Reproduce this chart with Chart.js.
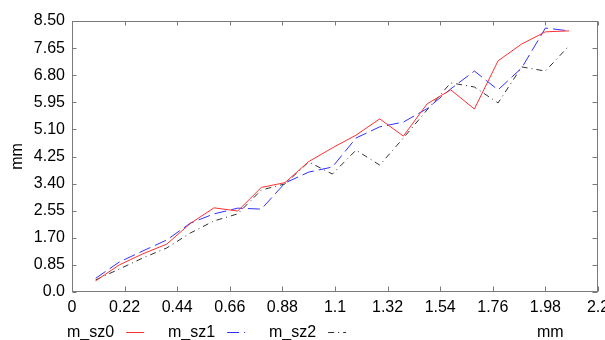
<!DOCTYPE html>
<html><head><meta charset="utf-8">
<script src="https://cdn.jsdelivr.net/npm/chart.js@4/dist/chart.umd.min.js"></script>
<style>html,body{margin:0;padding:0;background:#fff;}canvas{display:block;}</style>
</head><body>
<canvas id="c" width="605" height="340"></canvas>
<script>
const xValues = [0.099, 0.198, 0.297, 0.396, 0.495, 0.594, 0.693, 0.792, 0.891, 0.99, 1.089, 1.188, 1.287, 1.386, 1.485, 1.584, 1.683, 1.782, 1.881, 1.98, 2.079];
const seriesNames = ['m_sz0', 'm_sz1', 'm_sz2'];
const sz0 = [0.35, 0.85, 1.20, 1.50, 2.15, 2.64, 2.54, 3.28, 3.43, 4.09, 4.52, 4.92, 5.43, 4.89, 5.90, 6.34, 5.74, 7.25, 7.78, 8.16, 8.19];
const sz1 = [0.43, 0.94, 1.29, 1.63, 2.16, 2.45, 2.63, 2.60, 3.42, 3.76, 3.92, 4.83, 5.18, 5.33, 5.75, 6.37, 6.93, 6.34, 7.03, 8.28, 8.19];
const sz2 = [0.38, 0.72, 1.07, 1.38, 1.85, 2.23, 2.45, 3.20, 3.39, 4.08, 3.70, 4.45, 3.98, 4.83, 5.71, 6.56, 6.43, 5.93, 7.06, 6.93, 7.72];
const xTickValues = [0, 0.22, 0.44, 0.66, 0.88, 1.1, 1.32, 1.54, 1.76, 1.98, 2.2];
const xTickLabels = ['0', '0.22', '0.44', '0.66', '0.88', '1.1', '1.32', '1.54', '1.76', '1.98', '2.2'];
const yTickValues = [0, 0.85, 1.7, 2.55, 3.4, 4.25, 5.1, 5.95, 6.8, 7.65, 8.5];
const yTickLabels = ['0.0', '0.85', '1.70', '2.55', '3.40', '4.25', '5.10', '5.95', '6.80', '7.65', '8.50'];
const xAxisTitle = 'mm';
const yAxisTitle = 'mm';

const FONT = "'Liberation Sans', Arial, sans-serif";
const styles = [
  { color: '#ff3030', dash: [] },
  { color: '#3030ff', dash: [12, 5] },
  { color: '#303030', dash: [6, 4, 1, 4] }
];
const datasets = [sz0, sz1, sz2].map((arr, k) => ({
  label: seriesNames[k],
  data: arr.map((y, i) => ({ x: xValues[i], y: y })),
  borderColor: styles[k].color,
  borderDash: styles[k].dash,
  borderWidth: 1,
  pointRadius: 0,
  fill: false,
  tension: 0
}));

const framePlugin = {
  id: 'frame',
  afterDraw(chart) {
    const { ctx, chartArea: a, scales: { x, y } } = chart;
    ctx.save();
    ctx.strokeStyle = '#7a7a7a';
    ctx.lineWidth = 1;
    const L = Math.round(a.left) + 0.5, R = Math.round(a.right) - 0.5;
    const T = Math.round(a.top) + 0.5, B = Math.round(a.bottom) - 0.5;
    ctx.strokeRect(L, T, R - L, B - T);
    ctx.beginPath();
    x.ticks.forEach(t => {
      const px = Math.round(x.getPixelForValue(t.value)) + 0.5;
      ctx.moveTo(px, B); ctx.lineTo(px, B - 5);
      ctx.moveTo(px, T); ctx.lineTo(px, T + 4);
    });
    y.ticks.forEach(t => {
      const py = Math.round(y.getPixelForValue(t.value)) + 0.5;
      ctx.moveTo(L, py); ctx.lineTo(L + 4, py);
      ctx.moveTo(R, py); ctx.lineTo(R - 5, py);
    });
    ctx.stroke();

    ctx.font = '16px ' + FONT;
    ctx.fillStyle = '#000';
    ctx.textBaseline = 'alphabetic';
    ctx.textAlign = 'left';
    chart.data.datasets.forEach((ds, k) => {
      const tx = 67 + k * 101;
      ctx.fillText(ds.label, tx, 337);
      const w = ctx.measureText(ds.label).width;
      ctx.strokeStyle = ds.borderColor;
      ctx.setLineDash(ds.borderDash || []);
      ctx.beginPath();
      ctx.moveTo(tx + w + 12, 332.5);
      ctx.lineTo(tx + w + 30, 332.5);
      ctx.stroke();
      ctx.setLineDash([]);
    });
    ctx.fillText(xAxisTitle, 537, 337);
    ctx.restore();
  }
};

new Chart(document.getElementById('c'), {
  type: 'line',
  data: { datasets: datasets },
  plugins: [framePlugin],
  options: {
    responsive: false,
    animation: false,
    devicePixelRatio: 1,
    layout: { padding: { top: 21, right: 7, left: 0, bottom: 0 } },
    plugins: { legend: { display: false }, tooltip: { enabled: false } },
    scales: {
      x: {
        type: 'linear', min: 0, max: 2.2,
        grid: { display: false, drawTicks: false },
        border: { display: false },
        afterBuildTicks: s => { s.ticks = xTickValues.map(v => ({ value: v })); },
        afterFit: s => { s.height = 48; s.paddingLeft = 0; s.paddingRight = 0; },
        ticks: {
          autoSkip: false, maxRotation: 0, padding: 6, color: '#000',
          font: { family: FONT, size: 16 },
          callback: (v, i) => xTickLabels[i]
        }
      },
      y: {
        type: 'linear', min: 0, max: 8.5,
        grid: { display: false, drawTicks: false },
        border: { display: false },
        afterBuildTicks: s => { s.ticks = yTickValues.map(v => ({ value: v })); },
        afterFit: s => { s.width = 72; s.paddingTop = 0; s.paddingBottom = 0; },
        title: { display: true, text: yAxisTitle, color: '#000', font: { family: FONT, size: 16 }, padding: { top: 8, bottom: 0 } },
        ticks: {
          autoSkip: false, padding: 7, color: '#000',
          font: { family: FONT, size: 16 },
          callback: (v, i) => yTickLabels[i]
        }
      }
    }
  }
});
</script>
</body></html>
